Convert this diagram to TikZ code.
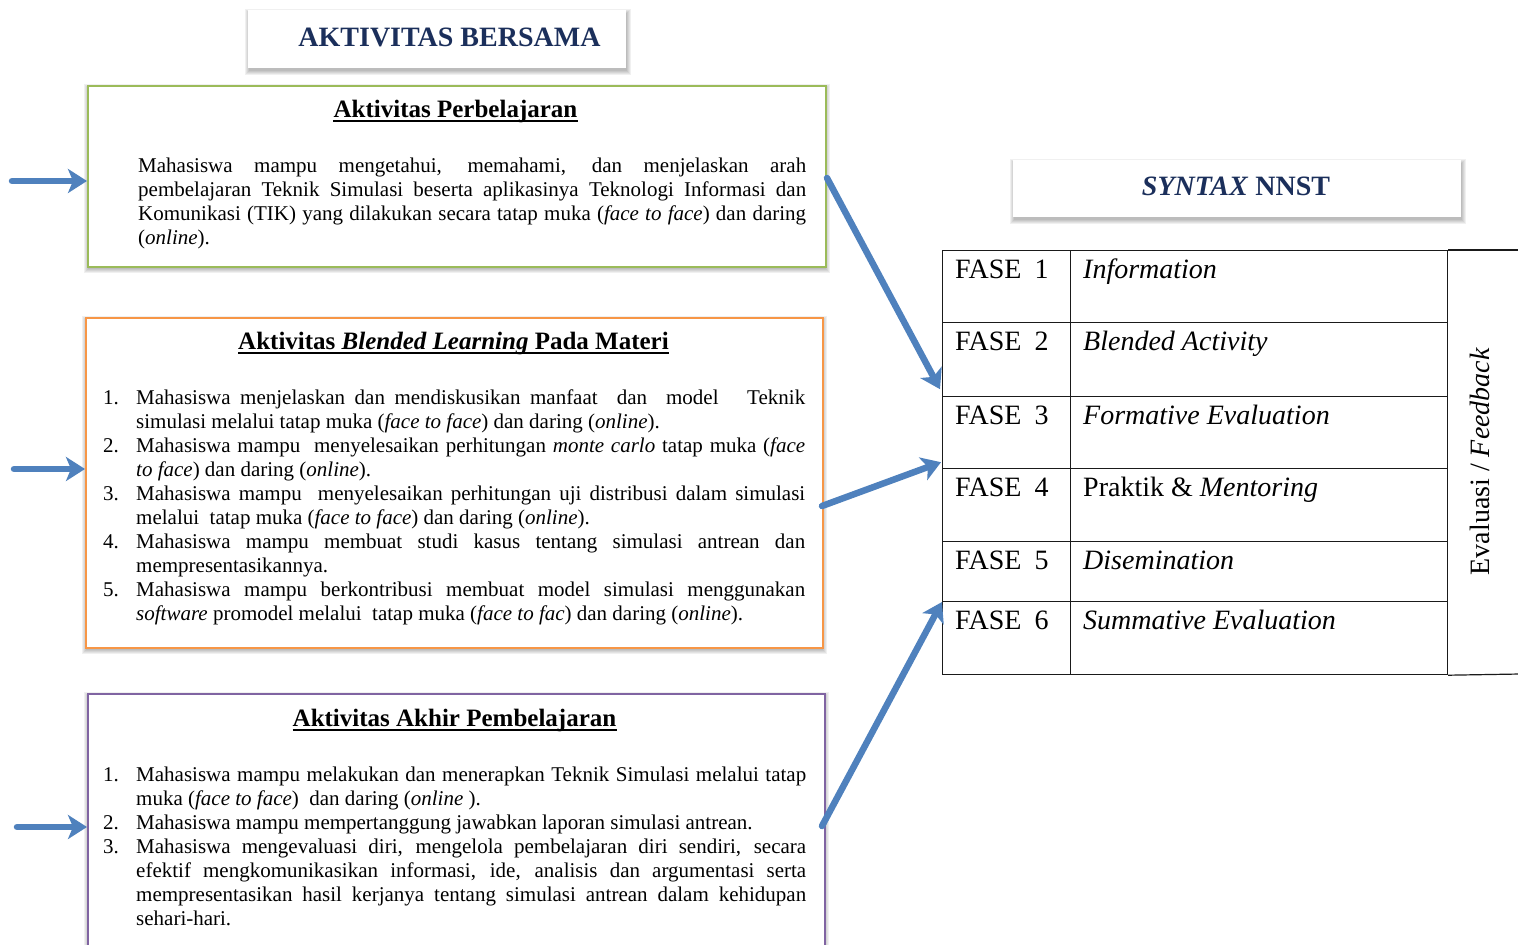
\documentclass[tikz,border=0pt]{standalone}
\usepackage{fontspec}
\setmainfont{Liberation Serif}
\usetikzlibrary{arrows.meta,calc}

\definecolor{navy}{HTML}{1B2F5B}
\definecolor{boxgreen}{HTML}{9BBB59}
\definecolor{boxorange}{HTML}{F79646}
\definecolor{boxpurple}{HTML}{8064A2}
\definecolor{flowblue}{HTML}{4F81BD}
\definecolor{gridline}{HTML}{1A1A1A}

% soft shadow under a box given by its corners (x1,y1) (x2,y2)
\newcommand{\shadebox}[4]{%
  \foreach \k in {0,...,4}{%
    \fill[black,opacity=0.06] (#1+1-\k,#2+3-\k) rectangle (#3+1+\k,#4+3+\k);
  }%
}
\newcommand{\bodyset}{\fontsize{21}{24}\selectfont\hyphenpenalty=10000
  \exhyphenpenalty=10000\tolerance=10000\parindent=0pt}
% one numbered item with a hanging indent
\newcommand{\itm}[2]{\hangindent=33pt\hangafter=1\noindent\strut
  \makebox[33pt][l]{#1}#2\par}

\begin{document}
\begin{tikzpicture}[x=1pt,y=-1pt,
  panel/.style={fill=white,line width=2pt,anchor=north west,inner sep=0pt},
  headbox/.style={fill=white,anchor=north west,inner sep=0pt},
  headtext/.style={font=\fontsize{28}{32}\selectfont\bfseries,text=navy,anchor=base,inner sep=0pt},
  ptitle/.style={font=\fontsize{25}{30}\selectfont\bfseries,anchor=base,inner sep=0pt},
  body/.style={anchor=north west,inner sep=0pt,align=justify,font=\bodyset},
  cell/.style={draw=gridline,line width=1.2pt,anchor=north west,inner sep=0pt},
  celltext/.style={font=\fontsize{28}{32}\selectfont,anchor=base west,inner sep=0pt},
  flow/.style={draw=flowblue,line width=6.5pt,line cap=round,
    -{Stealth[length=19pt,width=24pt,inset=5pt]}},
  uline/.style={line width=1.5pt}]
\useasboundingbox (0,0) rectangle (1518,945);

% ---- heading boxes ----
\shadebox{248}{10}{626}{68}
\node[headbox,minimum width=378pt,minimum height=58pt] (hb1) at (248,10) {};
\node[headtext] (h1) at (449.5,46) {AKTIVITAS BERSAMA};

\shadebox{1013}{160}{1461}{217}
\node[headbox,minimum width=448pt,minimum height=57pt] (hb2) at (1013,160) {};
\node[headtext] (h2) at (1236,195) {\textit{SYNTAX} NNST};

% ---- activity panels ----
\shadebox{87}{85}{825}{266}
\node[panel,draw=boxgreen,minimum width=738pt,minimum height=181pt] (b1) at (87,85) {};
\shadebox{85}{317}{822}{647}
\node[panel,draw=boxorange,minimum width=737pt,minimum height=330pt] (b2) at (85,317) {};
\shadebox{87}{693}{824}{965}
\node[panel,draw=boxpurple,minimum width=737pt,minimum height=272pt] (b3) at (87,693) {};

% panel titles
\node[ptitle] (t1) at (455.5,117) {Aktivitas Perbelajaran};
\draw[uline] ($(t1.base west)+(0,4)$) -- ($(t1.base east)+(0,4)$);
\node[ptitle] (t2) at (453.5,349) {Aktivitas \textit{Blended Learning} Pada Materi};
\draw[uline] ($(t2.base west)+(0,4)$) -- ($(t2.base east)+(0,4)$);
\node[ptitle] (t3) at (454.5,726) {Aktivitas Akhir Pembelajaran};
\draw[uline] ($(t3.base west)+(0,4)$) -- ($(t3.base east)+(0,4)$);

% panel texts
\node[body,text width=668pt] (p1) at (138,155) {\noindent\strut Mahasiswa mampu mengetahui, memahami, dan menjelaskan arah\linebreak
pembelajaran Teknik Simulasi beserta aplikasinya Teknologi Informasi dan\linebreak
Komunikasi (TIK) yang dilakukan secara tatap muka (\textit{face to face}) dan daring\linebreak
(\textit{online}).};

\node[body,text width=702pt] (p2) at (103,387) {%
\itm{1.}{Mahasiswa menjelaskan dan mendiskusikan manfaat\ \ dan\ \ model\ \ \ Teknik\linebreak
simulasi melalui tatap muka (\textit{face to face}) dan daring (\textit{online}).}%
\itm{2.}{Mahasiswa mampu\ \ menyelesaikan perhitungan \textit{monte carlo} tatap muka (\textit{face\linebreak
to face}) dan daring (\textit{online}).}%
\itm{3.}{Mahasiswa mampu\ \ menyelesaikan perhitungan uji distribusi dalam simulasi\linebreak
melalui\ \ tatap muka (\textit{face to face}) dan daring (\textit{online}).}%
\itm{4.}{Mahasiswa mampu membuat studi kasus tentang simulasi antrean dan\linebreak
mempresentasikannya.}%
\itm{5.}{Mahasiswa mampu berkontribusi membuat model simulasi menggunakan\linebreak
\textit{software} promodel melalui\ \ tatap muka (\textit{face to fac}) dan daring (\textit{online}).}};

\node[body,text width=703pt] (p3) at (103,764) {%
\itm{1.}{Mahasiswa mampu melakukan dan menerapkan Teknik Simulasi melalui tatap\linebreak
muka (\textit{face to face})\ \ dan daring (\textit{online} ).}%
\itm{2.}{Mahasiswa mampu mempertanggung jawabkan laporan simulasi antrean.}%
\itm{3.}{Mahasiswa mengevaluasi diri, mengelola pembelajaran diri sendiri, secara\linebreak
efektif mengkomunikasikan informasi, ide, analisis dan argumentasi serta\linebreak
mempresentasikan hasil kerjanya tentang simulasi antrean dalam kehidupan\linebreak
sehari-hari.}};

% ---- phase table ----
\foreach \i/\t/\b/\name in {1/250/322/{\textit{Information}},
                           2/322/396/{\textit{Blended Activity}},
                           3/396/468/{\textit{Formative Evaluation}},
                           4/468/541/{Praktik \& \textit{Mentoring}},
                           5/541/601/{\textit{Disemination}},
                           6/601/674/{\textit{Summative Evaluation}}}{
  \pgfmathsetmacro{\h}{\b-\t}
  \node[cell,minimum width=128pt,minimum height=\h pt] (f\i) at (942,\t) {};
  \node[cell,minimum width=377pt,minimum height=\h pt] (n\i) at (1070,\t) {};
  \node[celltext] (fl\i) at ($(f\i.north west)+(13,28)$) {FASE\hspace{13pt}\i};
  \node[celltext] (nl\i) at ($(n\i.north west)+(13,28)$) {\name};
}
\draw[draw=gridline,line width=1.2pt] (n1.north east) -- (1520,250);
\draw[draw=gridline,line width=1.2pt] (n6.south east) -- (1520,674);
\node[font=\fontsize{28}{32}\selectfont,anchor=base,rotate=90,inner sep=0pt] (ev) at (1489,461.5)
  {Evaluasi / \textit{Feedback}};

% ---- arrows ----
\coordinate (s1) at (12,181);
\coordinate (s2) at (14,469);
\coordinate (s3) at (17,827);
\draw[flow] (s1) -- (b1.west |- s1);
\draw[flow] (s2) -- (b2.west |- s2);
\draw[flow] (s3) -- (b3.west |- s3);

\coordinate (o2) at (822,506);
\coordinate (o3) at (822,826);
\draw[flow] ($(b1.east)+(0,1.5)$) -- ($(f2.south west)+(-2,-8)$);
\draw[flow] (o2) -- ($(f3.south west)+(-1,-7)$);
\draw[flow] (o3) -- ($(f6.north west)+(0,1)$);
\end{tikzpicture}
\end{document}
